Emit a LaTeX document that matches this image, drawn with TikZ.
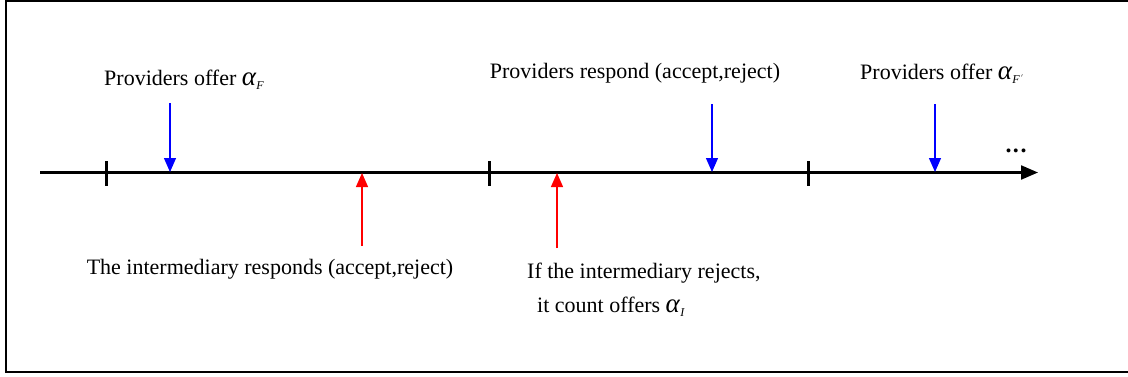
\documentclass[tikz,border=0pt]{standalone}
\usepackage{fontspec}
\setmainfont{Liberation Serif}
\usetikzlibrary{arrows.meta}
\newcommand{\alsub}[1]{{\fontsize{27}{27}\selectfont\textit{α}}\raisebox{-0.4ex}{\fontsize{12}{12}\selectfont\textit{#1}}}
\begin{document}
\begin{tikzpicture}[x=1pt,y=-1pt,
  lbl/.style={font=\fontsize{22}{26}\selectfont, inner sep=0pt},
  offerarrow/.style={draw=blue, line width=1.3pt, -{Triangle[length=14pt,width=12pt]}},
  reparrow/.style={draw=red, line width=1.3pt, -{Triangle[length=14pt,width=12pt]}},
  tickmark/.style={line width=3pt},
  axisline/.style={line width=2.2pt, -{Triangle[length=17pt,width=14pt]}}]
\useasboundingbox (0,0) rectangle (1128,376);
% frame (right side outside the picture)
\draw[line width=2pt] (1130,1) -- (6,1) -- (6,372) -- (1130,372);
% axis
\coordinate (a0) at (40,172.5);
\coordinate (a1) at (1038,172.5);
\draw[axisline] (a0) -- (a1);
% ticks
\foreach \n/\x in {t1/106,t2/489,t3/808}{
  \coordinate (\n a) at (\x,161);
  \coordinate (\n b) at (\x,186);
  \draw[tickmark] (\n a) -- (\n b);
}
% blue arrows
\coordinate (b1s) at (170,103); \coordinate (b1e) at (170,172);
\coordinate (b2s) at (712,104); \coordinate (b2e) at (712,172);
\coordinate (b3s) at (935,104); \coordinate (b3e) at (935,172);
\draw[offerarrow] (b1s) -- (b1e);
\draw[offerarrow] (b2s) -- (b2e);
\draw[offerarrow] (b3s) -- (b3e);
% red arrows
\coordinate (r1s) at (362,246); \coordinate (r1e) at (362,173);
\coordinate (r2s) at (557,248); \coordinate (r2e) at (557,173);
\draw[reparrow] (r1s) -- (r1e);
\draw[reparrow] (r2s) -- (r2e);
% labels
\node[lbl, anchor=base west] (l1) at (104,85) {Providers offer \alsub{F}};
\node[lbl, anchor=base] (l2) at (635,78) {Providers respond (accept,reject)};
\node[lbl, anchor=base west] (l3) at (860,79) {Providers offer \alsub{F\kern1pt\raisebox{0.6ex}{\fontsize{6}{6}\selectfont$'$}}};
\node[lbl, anchor=base] (l4) at (270,274) {The intermediary responds (accept,reject)};
\node[lbl, anchor=base west] (l5) at (527,278) {If the intermediary rejects,};
\node[lbl, anchor=base west] (l6) at (537,312) {it count offers \alsub{I}};
\node[font=\fontsize{24}{24}\selectfont\bfseries, inner sep=0pt] (dots) at (1016,151) {.\kern1.5pt.\kern1.5pt.};
\end{tikzpicture}
\end{document}
